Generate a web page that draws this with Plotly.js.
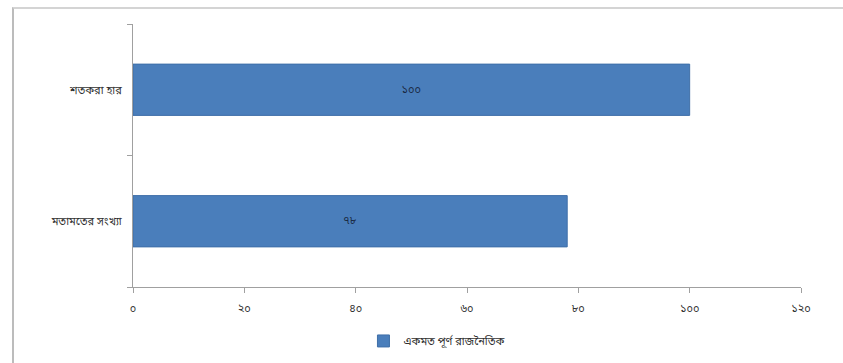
<!DOCTYPE html>
<html>
<head>
<meta charset="utf-8">
<script src="https://cdn.plot.ly/plotly-3.0.1.min.js"></script>
<style>
html,body{margin:0;padding:0;background:#fff;}
#wrap{position:relative;width:843px;height:363px;}
#chart{width:843px;height:363px;}
#frame{position:absolute;left:12px;top:7px;width:831px;height:356px;border-left:2px solid #bcbcbc;border-top:2px solid #d4d4d4;box-sizing:border-box;pointer-events:none;}
</style>
</head>
<body>
<div id="wrap"><div id="chart"></div><div id="frame"></div></div>
<script>
var categories = ['মতামতের সংখ্যা', 'শতকরা হার'];
var values = [78, 100];
var valueLabels = ['৭৮', '১০০'];
var seriesName = 'একমত পূর্ণ রাজনৈতিক';
var tickVals = [0, 20, 40, 60, 80, 100, 120];
var tickText = ['০', '২০', '৪০', '৬০', '৮০', '১০০', '১২০'];

var trace = {
  type: 'bar',
  orientation: 'h',
  y: categories,
  x: values,
  name: seriesName,
  text: valueLabels,
  textposition: 'inside',
  insidetextanchor: 'middle',
  textfont: {color: '#1a2a44', size: 11},
  marker: {color: '#4a7ebb', line: {color: '#3f6fa8', width: 1}},
  hoverinfo: 'none'
};

var layout = {
  width: 843, height: 363,
  margin: {l: 133, r: 42, t: 24, b: 76, autoexpand: false},
  paper_bgcolor: '#ffffff',
  plot_bgcolor: '#ffffff',
  font: {family: 'Noto Sans Bengali, Noto Sans, sans-serif', color: '#303030', size: 11},
  bargap: 0.61,
  showlegend: true,
  legend: {orientation: 'h', x: 0.345, xanchor: 'left', y: -0.15, yanchor: 'top', itemwidth: 30, font: {size: 11, color: '#303030'}},
  xaxis: {
    range: [0, 120],
    tickvals: tickVals,
    ticktext: tickText,
    showgrid: false,
    zeroline: false,
    showline: true,
    linecolor: '#a0a0a0',
    ticks: 'outside',
    ticklen: 5,
    tickcolor: '#a0a0a0',
    ticklabelstandoff: 6,
    tickfont: {size: 11, color: '#303030'},
    automargin: false,
    fixedrange: true
  },
  yaxis: {
    showgrid: false,
    zeroline: false,
    showline: true,
    linecolor: '#a0a0a0',
    ticks: 'outside',
    tickson: 'boundaries',
    ticklen: 5,
    tickcolor: '#a0a0a0',
    tickfont: {size: 11, color: '#303030'},
    ticklabelstandoff: 8,
    automargin: false,
    fixedrange: true
  }
};

Plotly.newPlot('chart', [trace], layout, {displayModeBar: false, staticPlot: true});
</script>
</body>
</html>
